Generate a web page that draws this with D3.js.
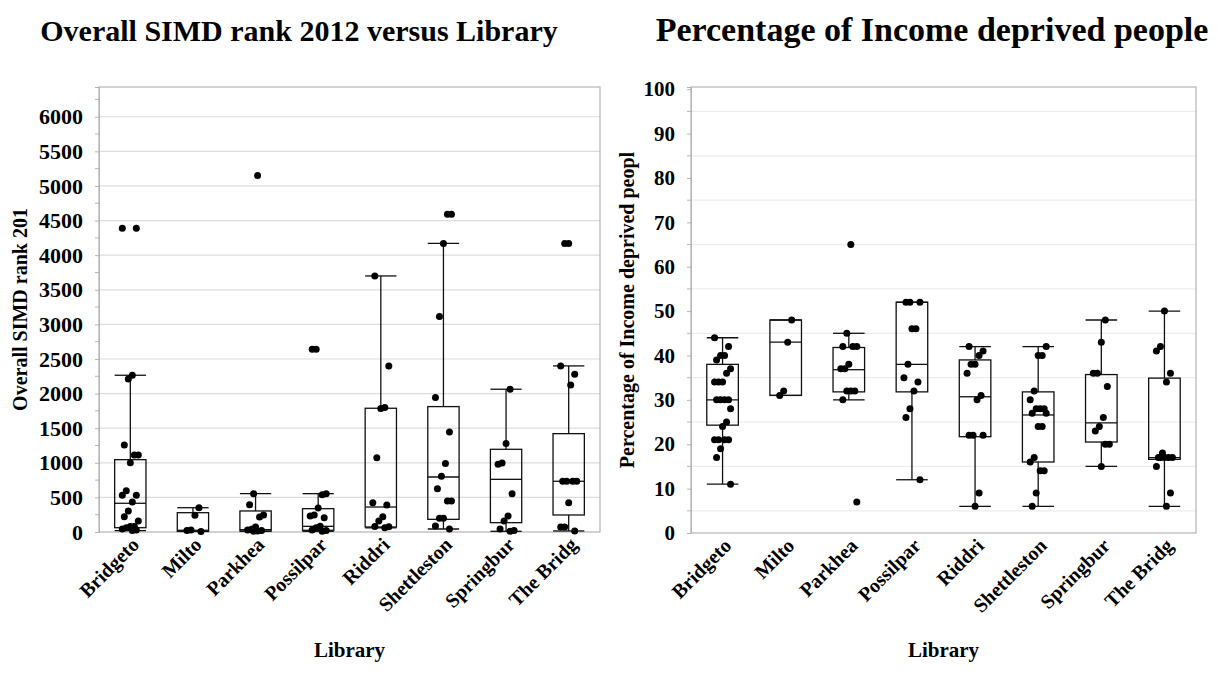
<!DOCTYPE html>
<html>
<head>
<meta charset="utf-8">
<script src="https://cdn.jsdelivr.net/npm/d3@7/dist/d3.min.js"></script>
<style>
  body { margin: 0; background: #fff; }
  text { font-family: "Liberation Serif", "Times New Roman", serif; font-weight: bold; fill: #000; }
</style>
</head>
<body>
<svg width="1217" height="693"></svg>
<script>
'use strict';
// ---------- data ----------
const libraries = ['Bridgeto', 'Milto', 'Parkhea', 'Possilpar', 'Riddri', 'Shettleston', 'Springbur', 'The Bridg'];

// Overall SIMD rank 2012, every dot per library
const simdPoints = [
  [4390, 4390, 2265, 2210, 1258, 1113, 1113, 1002, 597, 530, 530, 434, 304, 222, 160, 80, 80, 60, 45, 30, 20],
  [351, 241, 30, 22, 8],
  [5150, 554, 395, 246, 217, 72, 40, 30, 20, 15, 10],
  [2640, 2640, 554, 537, 347, 246, 231, 207, 82, 60, 30, 20, 10],
  [3700, 2400, 1800, 1783, 1074, 424, 390, 222, 159, 80, 75, 60],
  [4590, 4590, 4170, 3113, 1942, 1446, 988, 805, 626, 448, 448, 198, 198, 87, 43],
  [2063, 1277, 997, 978, 554, 231, 159, 43, 20, 10],
  [4168, 4168, 2400, 2280, 2125, 733, 733, 733, 733, 424, 72, 72, 15]
];
// [lower whisker, Q1, median, Q3, upper whisker]
const simdBoxes = [
  [20, 62, 415, 1045, 2265],
  [8, 10, 25, 279, 351],
  [10, 15, 35, 304, 554],
  [10, 25, 82, 337, 554],
  [60, 72, 361, 1788, 3700],
  [43, 183, 795, 1812, 4170],
  [10, 135, 761, 1195, 2063],
  [15, 246, 733, 1421, 2400]
];
const simdTicks = [0, 500, 1000, 1500, 2000, 2500, 3000, 3500, 4000, 4500, 5000, 5500, 6000];

// Percentage of Income deprived people
const incomePoints = [
  [44, 42, 40, 40, 39, 37, 36, 34, 34, 34, 30, 30, 30, 30, 28, 25, 24, 21, 21, 21, 21, 19, 17, 11],
  [48, 43, 32, 31],
  [65, 45, 42, 42, 42, 38, 37, 37, 32, 32, 32, 30, 7],
  [52, 52, 52, 46, 46, 38, 35, 34, 32, 28, 26, 12],
  [42, 41, 40, 38, 38, 36, 31, 30, 22, 22, 22, 9, 6],
  [42, 40, 40, 32, 30, 28, 28, 28, 27, 27, 24, 24, 17, 16, 14, 14, 9, 6],
  [48, 43, 36, 36, 33, 26, 24, 23, 20, 20, 15],
  [50, 42, 41, 36, 34, 18, 17, 17, 17, 17, 17, 15, 9, 6]
];
const incomeBoxes = [
  [11, 24.3, 30, 38, 44],
  [31, 31, 43, 48, 48],
  [30, 31.8, 36.8, 41.8, 45],
  [12, 31.8, 38, 52, 52],
  [6, 21.7, 30.7, 39, 42],
  [6, 16, 26.6, 31.8, 42],
  [15, 20.5, 24.8, 35.7, 48],
  [6, 16.6, 17, 34.9, 50]
];
const incomeTicks = [0, 10, 20, 30, 40, 50, 60, 70, 80, 90, 100];

// ---------- drawing ----------
const svg = d3.select('svg');
const serif = '"Liberation Serif", "Times New Roman", serif';

function boxChart(opt) {
  const x = d3.scaleBand().domain(libraries).range([opt.left, opt.right]);
  const y = d3.scaleLinear().domain(opt.domain).range([opt.bottom, opt.top]);
  const g = svg.append('g');
  const bw = x.bandwidth() * 0.5;

  // grid
  g.append('g').selectAll('line').data(opt.grid).join('line')
    .attr('x1', opt.left).attr('x2', opt.right)
    .attr('y1', d => y(d)).attr('y2', d => y(d))
    .attr('stroke', opt.gridColor).attr('stroke-width', 1.2);

  // frame
  g.append('rect')
    .attr('x', opt.left).attr('y', opt.top)
    .attr('width', opt.right - opt.left).attr('height', opt.bottom - opt.top)
    .attr('fill', 'none').attr('stroke', '#b4b4b4').attr('stroke-width', 1.2);

  // y axis, major and minor ticks
  const yAxis = g.append('g')
    .attr('transform', `translate(${opt.left},0)`)
    .call(d3.axisLeft(y).tickValues(opt.ticks).tickFormat(d3.format('d')).tickSize(4).tickPadding(12));
  yAxis.attr('font-family', serif).attr('font-size', opt.tickFont);
  yAxis.select('.domain').attr('stroke', '#b4b4b4');
  yAxis.selectAll('.tick line').attr('stroke', '#b4b4b4');
  yAxis.selectAll('.tick text')
    .attr('font-family', serif).attr('font-weight', 'bold')
    .style('font-size', opt.tickFont + 'px');
  g.append('g').selectAll('line').data(opt.minor).join('line')
    .attr('x1', opt.left - 4).attr('x2', opt.left)
    .attr('y1', d => y(d)).attr('y2', d => y(d))
    .attr('stroke', '#b4b4b4');

  // boxes
  const box = g.append('g').selectAll('g').data(opt.boxes).join('g')
    .attr('transform', (d, i) => `translate(${x(libraries[i]) + x.bandwidth() / 2},0)`)
    .attr('stroke', '#111').attr('stroke-width', 1.3).attr('fill', 'none');
  box.append('line').attr('y1', d => y(d[0])).attr('y2', d => y(d[1]));
  box.append('line').attr('y1', d => y(d[3])).attr('y2', d => y(d[4]));
  box.append('line').attr('x1', -bw / 2).attr('x2', bw / 2).attr('y1', d => y(d[0])).attr('y2', d => y(d[0]));
  box.append('line').attr('x1', -bw / 2).attr('x2', bw / 2).attr('y1', d => y(d[4])).attr('y2', d => y(d[4]));
  box.append('rect').attr('x', -bw / 2).attr('width', bw)
    .attr('y', d => y(d[3])).attr('height', d => y(d[1]) - y(d[3]));
  box.append('line').attr('x1', -bw / 2).attr('x2', bw / 2).attr('y1', d => y(d[2])).attr('y2', d => y(d[2]));

  // jittered dots (fixed, repeatable offsets)
  const jitter = i => ((i * 7) % 9 - 4) * 2;
  opt.points.forEach((vals, k) => {
    const cx = x(libraries[k]) + x.bandwidth() / 2;
    g.append('g').selectAll('circle').data(vals).join('circle')
      .attr('cx', (d, i) => cx + jitter(i + k))
      .attr('cy', d => y(d))
      .attr('r', 3.5)
      .attr('fill', '#000');
  });

  // x labels
  g.append('g').selectAll('text').data(libraries).join('text')
    .attr('transform', d => `translate(${x(d) + x.bandwidth() / 2 + 10},${opt.bottom + 14}) rotate(-45)`)
    .attr('text-anchor', 'end')
    .style('font-size', '20px')
    .text(d => d);

  // titles
  g.append('text').attr('x', opt.titleX).attr('y', 41)
    .attr('text-anchor', 'middle').style('font-size', opt.titleFont + 'px').text(opt.title);
  g.append('text').attr('x', (opt.left + opt.right) / 2).attr('y', 657)
    .attr('text-anchor', 'middle').style('font-size', '21px').text('Library');
  g.append('text')
    .attr('transform', `translate(${opt.yTitleX},${(opt.top + opt.bottom) / 2}) rotate(-90)`)
    .attr('text-anchor', 'middle').style('font-size', '20px').text(opt.yTitle);
}

boxChart({
  left: 99, right: 600, top: 87, bottom: 532,
  domain: [0, 6430],
  ticks: simdTicks,
  tickFont: 22,
  minor: simdTicks.map(t => t + 250),
  grid: simdTicks.slice(1),
  gridColor: '#dcdcdc',
  boxes: simdBoxes, points: simdPoints,
  title: 'Overall SIMD rank 2012 versus Library', titleX: 299, titleFont: 30,
  yTitle: 'Overall SIMD rank 201', yTitleX: 27
});

boxChart({
  left: 691, right: 1196, top: 87, bottom: 533,
  domain: [0, 100.5],
  ticks: incomeTicks,
  tickFont: 21,
  minor: incomeTicks.slice(0, -1).map(t => t + 5),
  grid: incomeTicks.slice(0, -1).map(t => t + 5),
  gridColor: '#ececec',
  boxes: incomeBoxes, points: incomePoints,
  title: 'Percentage of Income deprived people', titleX: 932, titleFont: 34,
  yTitle: 'Percentage of Income deprived peopl', yTitleX: 634
});
</script>
</body>
</html>
